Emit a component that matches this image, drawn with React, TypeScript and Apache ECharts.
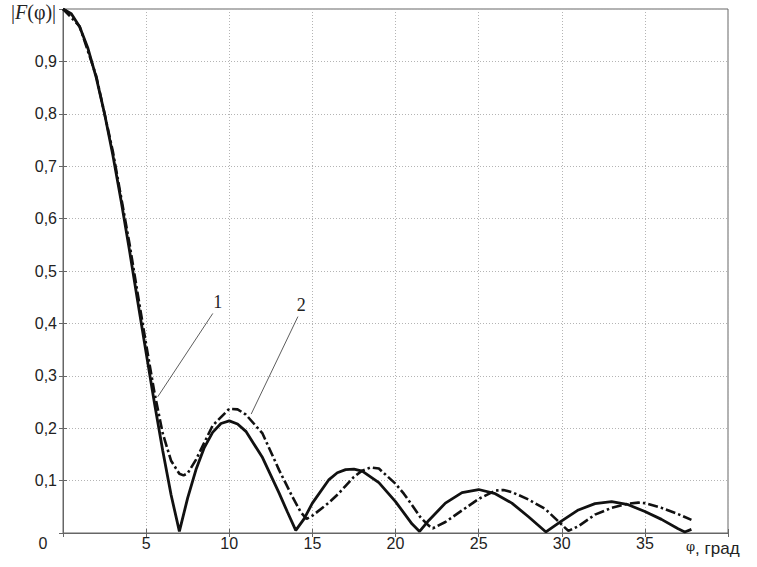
import React, { useEffect, useRef } from "react";
import * as echarts from "echarts";

// Curve 1 (solid)
const phi1 = [0, 0.5, 1, 1.5, 2, 2.5, 3, 3.5, 4, 4.5, 5, 5.5, 6, 6.5, 7, 7.5, 8, 8.5, 9, 9.5, 10, 10.5, 11, 12, 13, 13.5, 14, 14.5, 15, 16, 16.5, 17, 17.5, 18, 19, 20, 21, 21.45, 22, 23, 24, 25, 26, 27, 28, 29.05, 30, 31, 32, 33, 34, 35, 36, 37, 37.4, 37.8];
const f1 = [1.0, 0.991, 0.966, 0.925, 0.869, 0.8, 0.721, 0.633, 0.539, 0.441, 0.344, 0.248, 0.157, 0.073, 0.003, 0.067, 0.121, 0.163, 0.192, 0.209, 0.214, 0.208, 0.194, 0.144, 0.076, 0.04, 0.005, 0.027, 0.057, 0.102, 0.115, 0.121, 0.122, 0.118, 0.096, 0.06, 0.017, 0.003, 0.024, 0.057, 0.077, 0.083, 0.075, 0.057, 0.031, 0.002, 0.023, 0.044, 0.056, 0.06, 0.054, 0.041, 0.026, 0.008, 0.002, 0.007];

// Curve 2 (dash-dot)
const phi2 = [0, 1, 2, 3, 4, 4.5, 5, 5.5, 6, 6.5, 7, 7.25, 7.5, 8, 9, 10, 10.5, 11, 12, 13, 13.8, 14.3, 14.65, 15, 16, 16.6, 17, 17.5, 18, 18.5, 19, 20, 20.5, 21, 21.5, 22, 22.25, 23, 24, 25, 26, 26.5, 27, 28, 29, 29.7, 30.4, 31, 32, 33, 34, 34.6, 35, 36, 37, 37.8];
const f2 = [1.0, 0.967, 0.872, 0.728, 0.552, 0.455, 0.36, 0.268, 0.19, 0.138, 0.113, 0.11, 0.114, 0.14, 0.205, 0.237, 0.236, 0.226, 0.19, 0.12, 0.069, 0.04, 0.027, 0.033, 0.058, 0.076, 0.09, 0.107, 0.119, 0.125, 0.123, 0.094, 0.075, 0.053, 0.03, 0.014, 0.009, 0.021, 0.043, 0.065, 0.081, 0.082, 0.078, 0.064, 0.046, 0.025, 0.004, 0.013, 0.035, 0.048, 0.056, 0.058, 0.057, 0.048, 0.036, 0.025];

// Annotation leader lines (data coordinates) and labels
const leaderNames = ["1", "2"];
const leaderStart = [[9.01, 0.419], [14.13, 0.413]];
const leaderEnd = [[5.7, 0.26], [11.32, 0.227]];
const leaderLabelPos = [[9.31, 0.441], [14.33, 0.435]];

const xTicksShown = [5, 10, 15, 20, 25, 30, 35];

export default function App() {
  const ref = useRef<HTMLDivElement>(null);
  useEffect(() => {
    if (!ref.current) return;
    const chart = echarts.init(ref.current, null, { renderer: "svg" });
    const zip = (xs: number[], ys: number[]) => xs.map((x, i) => [x, ys[i]]);
    const axisColor = "#666";
    const textColor = "#222";
    chart.setOption({
      animation: false,
      grid: {
        left: 63,
        top: 9,
        width: 665,
        height: 524,
        show: true,
        borderColor: axisColor,
        borderWidth: 1,
      },
      xAxis: [
        {
          type: "value",
          min: 0,
          max: 40,
          interval: 5,
          axisLine: { show: true, lineStyle: { color: axisColor, width: 1 } },
          axisTick: { show: true, inside: true, length: 4, lineStyle: { color: axisColor } },
          axisLabel: {
            color: textColor,
            fontFamily: "Liberation Sans",
            fontSize: 16,
            margin: 2,
            formatter: (v: number) => (xTicksShown.indexOf(v) >= 0 ? String(v) : ""),
          },
          splitLine: { show: true, lineStyle: { color: "#b4b4b4", type: [1, 2], width: 1 } },
        },
        {
          type: "value",
          position: "top",
          min: 0,
          max: 40,
          interval: 5,
          axisLine: { show: true, lineStyle: { color: axisColor } },
          axisTick: { show: true, inside: true, length: 4, lineStyle: { color: axisColor } },
          axisLabel: { show: false },
          splitLine: { show: false },
        },
      ],
      yAxis: [
        {
          type: "value",
          min: 0,
          max: 1,
          interval: 0.1,
          axisLine: { show: true, lineStyle: { color: axisColor, width: 1 } },
          axisTick: { show: true, inside: true, length: 4, lineStyle: { color: axisColor } },
          axisLabel: {
            color: textColor,
            fontFamily: "Liberation Sans",
            fontSize: 16,
            margin: 6,
            formatter: (v: number) =>
              v < 0.05 || v > 0.95 ? "" : v.toFixed(1).replace(".", ","),
          },
          splitLine: { show: true, lineStyle: { color: "#b4b4b4", type: [1, 2], width: 1 } },
        },
        {
          type: "value",
          position: "right",
          min: 0,
          max: 1,
          interval: 0.1,
          axisLine: { show: true, lineStyle: { color: axisColor } },
          axisTick: { show: true, inside: true, length: 4, lineStyle: { color: axisColor } },
          axisLabel: { show: false },
          splitLine: { show: false },
        },
      ],
      series: [
        {
          type: "line",
          name: "1",
          data: zip(phi1, f1),
          showSymbol: false,
          symbol: "none",
          lineStyle: { color: "#111", width: 2.8 },
          z: 3,
          markLine: {
            silent: true,
            symbol: "none",
            label: { show: false },
            lineStyle: { color: "#333", width: 0.8, type: "solid" },
            data: leaderStart.map((s, i) => [{ coord: s }, { coord: leaderEnd[i] }]),
          },
          markPoint: {
            silent: true,
            symbol: "circle",
            symbolSize: 1,
            itemStyle: { color: "rgba(0,0,0,0)" },
            label: {
              show: true,
              position: "inside",
              formatter: "{b}",
              color: "#222",
              fontFamily: "Liberation Serif",
              fontSize: 18,
            },
            data: leaderLabelPos.map((p, i) => ({ name: leaderNames[i], coord: p })),
          },
        },
        {
          type: "line",
          name: "2",
          data: zip(phi2, f2),
          showSymbol: false,
          symbol: "none",
          lineStyle: { color: "#111", width: 2.6, type: [10, 3, 2.5, 3] },
          z: 2,
        },
      ],
      graphic: [
        {
          type: "text",
          left: 11,
          top: 2,
          style: {
            text: "{a||}{b|F}{a|(φ)|}",
            rich: {
              a: { fontFamily: "Liberation Serif", fontSize: 20, fill: "#222" },
              b: { fontFamily: "Liberation Serif", fontSize: 20, fontStyle: "italic", fill: "#222" },
            },
          },
        },
        {
          type: "text",
          x: 43,
          y: 543,
          style: {
            text: "0",
            fontFamily: "Liberation Sans",
            fontSize: 16,
            fill: textColor,
            align: "center",
            verticalAlign: "middle",
          },
        },
        {
          type: "text",
          x: 686,
          y: 548,
          style: {
            text: "{p|φ}{t|, град}",
            align: "left",
            verticalAlign: "middle",
            rich: {
              p: { fontFamily: "DejaVu Serif", fontSize: 13, fill: textColor, padding: [0, 0, 4, 0] },
              t: { fontFamily: "Liberation Sans", fontSize: 17, fill: textColor },
            },
          },
        },
      ],
    });
    return () => chart.dispose();
  }, []);
  return <div ref={ref} style={{ width: 757, height: 567, position: "absolute", left: 0, top: 0 }} />;
}
